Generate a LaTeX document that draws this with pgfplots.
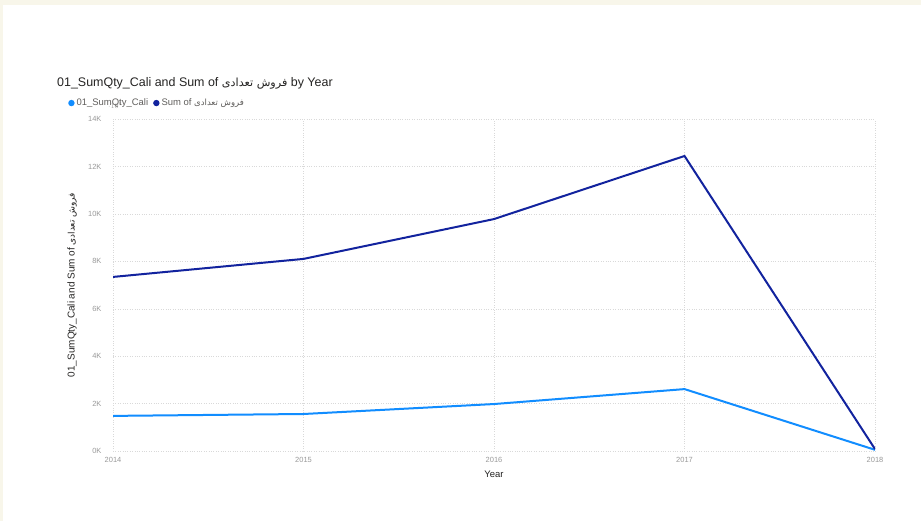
\documentclass[border=0pt]{standalone}
\usepackage{fontspec}
\setmainfont{Liberation Sans}
\newfontfamily\arabicfont[Script=Arabic,Scale=0.9]{DejaVu Sans}
\TeXXeTstate=1
\usepackage{pgfplots}
\pgfplotsset{compat=1.18}
\definecolor{cream}{HTML}{F8F6EA}
\definecolor{lblue}{HTML}{118DFF}
\definecolor{dblue}{HTML}{12239E}
\definecolor{tgrey}{HTML}{999999}
\definecolor{ttl}{HTML}{252423}
\definecolor{lgd}{HTML}{605E5C}
\newcommand{\fa}{{\arabicfont\beginR فروش تعدادی\endR}}
\begin{document}
\begin{tikzpicture}[x=1bp,y=1bp]
\useasboundingbox (0,0) rectangle (921,521);
\fill[cream] (0,0) rectangle (921,521);
\fill[white] (3,0) rectangle (921,516);
\node[anchor=base west, font=\fontsize{12.5}{14}\selectfont, text=ttl, inner sep=0] at (57,434) {01\_SumQty\_Cali and Sum of \fa{} by Year};
\begin{axis}[
  at={(113bp,70bp)}, anchor=south west,
  scale only axis, width=762bp, height=332bp,
  xmin=2014, xmax=2018, ymin=0, ymax=14000,
  axis line style={draw=none},
  tick style={draw=none},
  grid=major,
  grid style={dotted, color=black!15},
  xtick={2014,2015,2016,2017,2018},
  ytick={0,2000,4000,6000,8000,10000,12000,14000},
  yticklabels={0K,2K,4K,6K,8K,10K,12K,14K},
  /pgf/number format/1000 sep={},
  /pgf/number format/assume math mode=true,
  ticklabel style={font=\fontsize{7.5}{8}\selectfont, text=tgrey},
  xticklabel style={yshift=-3bp},
  yticklabel style={xshift=-8bp},
  xlabel={Year},
  ylabel={01\_SumQty\_Cali and Sum of \fa},
  every axis x label/.style={at={(axis description cs:0.5,0)}, anchor=center, yshift=-23bp, font=\fontsize{9.5}{10}\selectfont, text=ttl},
  every axis y label/.style={at={(axis description cs:-0.0538,0.5)}, anchor=center, rotate=90, font=\fontsize{10}{11}\selectfont, text=ttl},
  legend columns=2,
  legend style={at={(axis description cs:-0.059,1.048)}, anchor=west, draw=none, fill=none, font=\fontsize{9.5}{10}\selectfont, text=lgd, inner sep=0pt, /tikz/every even column/.append style={column sep=3bp}},
  legend image code/.code={\fill[#1, draw=none] (3bp,0bp) circle (3.2bp);},
  legend cell align=left,
]
\addplot[lblue, line width=2bp] coordinates {(2014,1480) (2015,1560) (2016,1980) (2017,2610) (2018,50)};
\addlegendentry{01\_SumQty\_Cali}
\addplot[dblue, line width=2bp] coordinates {(2014,7340) (2015,8100) (2016,9780) (2017,12440) (2018,80)};
\addlegendentry{Sum of \fa}
\end{axis}
\end{tikzpicture}
\end{document}
